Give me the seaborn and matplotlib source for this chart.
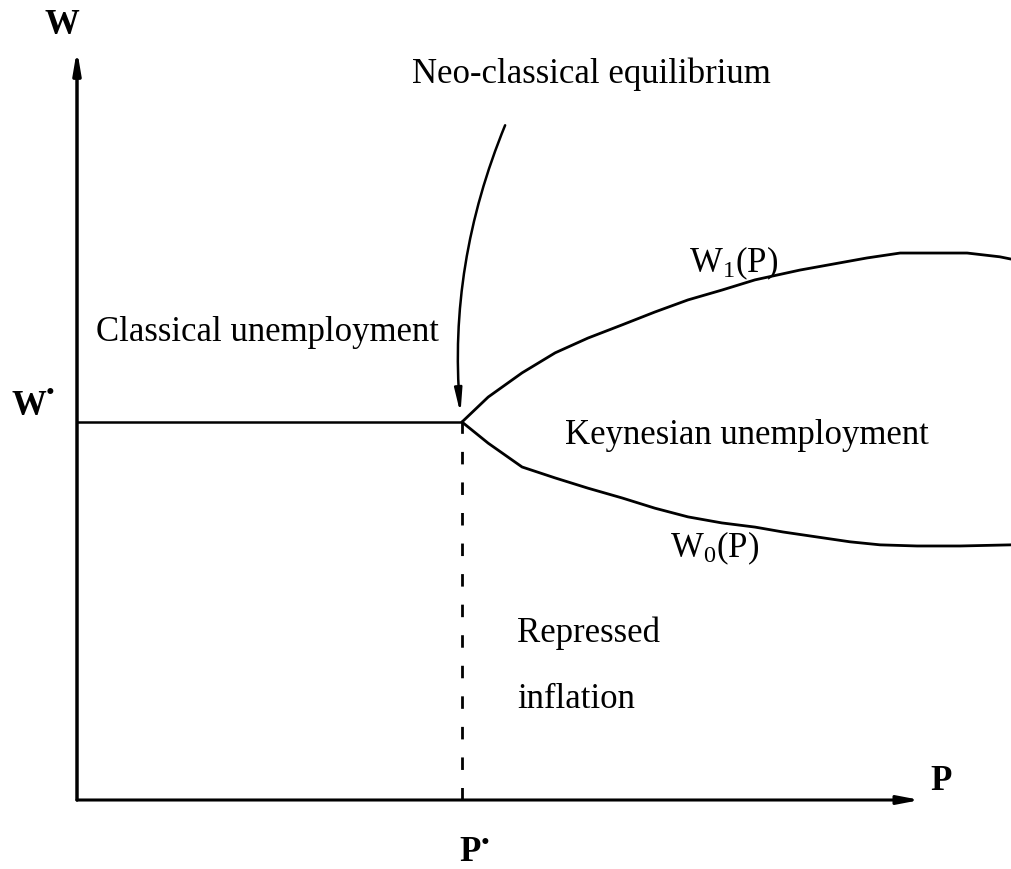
import matplotlib
matplotlib.use("Agg")
import matplotlib.pyplot as plt
import seaborn as sns
import pandas as pd

# units: P* = 1, W* = 1
p_star = 1.0
w_star = 1.0

# upper boundary W1(P)
w1_p = [1.0, 1.068, 1.156, 1.242, 1.327, 1.416, 1.501, 1.587, 1.675, 1.761,
        1.878, 2.052, 2.138, 2.223, 2.312, 2.397, 2.426]
w1_w = [1.0, 1.066, 1.130, 1.183, 1.222, 1.257, 1.291, 1.323, 1.349, 1.376,
        1.402, 1.434, 1.447, 1.447, 1.447, 1.437, 1.431]

# lower boundary W0(P)
w0_p = [1.0, 1.068, 1.156, 1.242, 1.327, 1.416, 1.501, 1.587, 1.675, 1.761,
        1.834, 2.008, 2.086, 2.182, 2.294, 2.426]
w0_w = [1.0, 0.944, 0.881, 0.852, 0.825, 0.799, 0.772, 0.749, 0.733, 0.722,
        0.709, 0.683, 0.675, 0.672, 0.672, 0.675]

# horizontal W* segment
wstar_p = [0.0, 1.0]
wstar_w = [1.0, 1.0]

sns.set_style("white")
plt.rcParams['font.family'] = ['Liberation Serif', 'DejaVu Serif']
plt.rcParams['text.color'] = 'black'
plt.rcParams['mathtext.fontset'] = 'custom'
plt.rcParams['mathtext.rm'] = 'Liberation Serif'
plt.rcParams['mathtext.it'] = 'Liberation Serif:italic'
plt.rcParams['mathtext.bf'] = 'Liberation Serif:bold'

fig = plt.figure(figsize=(10.11, 8.69), dpi=100)
ax = fig.add_axes([0, 0, 1, 1])

df1 = pd.DataFrame({'P': w1_p, 'W': w1_w})
df0 = pd.DataFrame({'P': w0_p, 'W': w0_w})
dfs = pd.DataFrame({'P': wstar_p, 'W': wstar_w})
sns.lineplot(data=df1, x='P', y='W', ax=ax, color='black', lw=2, sort=False)
sns.lineplot(data=df0, x='P', y='W', ax=ax, color='black', lw=2, sort=False)
sns.lineplot(data=dfs, x='P', y='W', ax=ax, color='black', lw=1.8, sort=False)

# dashed P* line
ax.plot([p_star, p_star], [0, w_star], color='black', lw=2, dashes=(4.5, 6.5))

# axes with arrows
ax.annotate('', xy=(0, 1.985), xytext=(0, 0),
            arrowprops=dict(arrowstyle='-|>,head_length=1.3,head_width=0.22',
                            color='black', lw=2.5, shrinkA=0, shrinkB=0))
ax.annotate('', xy=(2.19, 0), xytext=(0, 0),
            arrowprops=dict(arrowstyle='-|>,head_length=1.3,head_width=0.25',
                            color='black', lw=2.2, shrinkA=0, shrinkB=0))

# equilibrium pointer
ax.text(0.87, 1.92, 'Neo-classical equilibrium', fontsize=25, ha='left', va='center')
ax.annotate('', xy=(p_star - 0.004, w_star + 0.022), xytext=(1.112, 1.785),
            arrowprops=dict(arrowstyle='-|>,head_length=1.4,head_width=0.22',
                            color='black', lw=1.8, shrinkA=0, shrinkB=0,
                            connectionstyle='arc3,rad=0.12'))

ax.text(-0.04, 2.05, 'W', fontsize=25, fontweight='bold', ha='center', va='center')
ax.text(2.244, 0.048, 'P', fontsize=25, fontweight='bold', ha='center', va='center')
ax.text(-0.125, 1.042, 'W', fontsize=25, fontweight='bold', ha='center', va='center')
ax.text(-0.07, 1.075, '\u2022', fontsize=18, ha='center', va='center')
ax.text(1.021, -0.138, 'P', fontsize=25, fontweight='bold', ha='center', va='center')
ax.text(1.06, -0.117, '\u2022', fontsize=18, ha='center', va='center')

ax.text(0.05, 1.238, 'Classical unemployment', fontsize=25, ha='left', va='center')
ax.text(1.268, 0.965, 'Keynesian unemployment', fontsize=25, ha='left', va='center')
ax.text(1.59, 1.42, r'W$_{\mathrm{1}}$(P)', fontsize=25, ha='left', va='center')
ax.text(1.54, 0.665, r'W$_{\mathrm{0}}$(P)', fontsize=25, ha='left', va='center')
ax.text(1.143, 0.442, 'Repressed', fontsize=25, ha='left', va='center')
ax.text(1.143, 0.265, 'inflation', fontsize=25, ha='left', va='center')

ax.set_xlim(-77 / 385, (1011 - 77) / 385)
ax.set_ylim(-(869 - 800) / 378, 800 / 378)
ax.axis('off')

fig.savefig('out.png', dpi=100)
